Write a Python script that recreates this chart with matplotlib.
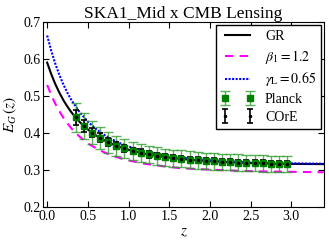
import matplotlib
matplotlib.use("Agg")
import matplotlib.pyplot as plt

plt.rcParams['font.family'] = ['Liberation Serif', 'DejaVu Serif']
plt.rcParams['mathtext.fontset'] = 'stix'

# curve grid
z_curve = [0.0, 0.05, 0.1, 0.15, 0.2, 0.25, 0.3, 0.4, 0.5, 0.6, 0.7, 0.8, 0.9, 1.0,
           1.2, 1.4, 1.6, 1.8, 2.0, 2.4, 2.8, 3.4]
eg_gr = [0.5904, 0.5592, 0.5323, 0.5090, 0.4887, 0.4710, 0.4555, 0.4298, 0.4096, 0.3936,
         0.3807, 0.3703, 0.3618, 0.3548, 0.3441, 0.3365, 0.3310, 0.3269, 0.3238, 0.3195,
         0.3169, 0.3160]
eg_beta = [0.530, 0.503, 0.479, 0.459, 0.441, 0.426, 0.412, 0.390, 0.372, 0.359,
           0.348, 0.339, 0.332, 0.326, 0.317, 0.311, 0.306, 0.303, 0.301, 0.2975,
           0.2957, 0.294]
eg_gamma = [0.6637, 0.6225, 0.5873, 0.5570, 0.5309, 0.5082, 0.4885, 0.4561, 0.4309, 0.4110,
            0.3952, 0.3825, 0.3721, 0.3636, 0.3507, 0.3416, 0.3350, 0.3301, 0.3264, 0.3213,
            0.3185, 0.3170]

# data points
z_data = [0.35, 0.45, 0.55, 0.65, 0.75, 0.85, 0.95, 1.05, 1.15, 1.25, 1.35, 1.45, 1.55, 1.65,
          1.75, 1.85, 1.95, 2.05, 2.15, 2.25, 2.35, 2.45, 2.55, 2.65, 2.75, 2.85, 2.95]
eg_data = [0.4420, 0.4193, 0.4013, 0.3869, 0.3753, 0.3659, 0.3582, 0.3519, 0.3465, 0.3420,
           0.3383, 0.3350, 0.3322, 0.3299, 0.3278, 0.3261, 0.3245, 0.3232, 0.3222, 0.3211,
           0.3200, 0.3192, 0.3185, 0.3179, 0.3172, 0.3166, 0.3162]
err_planck = [0.040, 0.035, 0.032, 0.030, 0.028, 0.027, 0.026, 0.025, 0.025, 0.024, 0.024,
              0.023, 0.023, 0.023, 0.023, 0.022, 0.022, 0.022, 0.022, 0.022, 0.022, 0.022,
              0.022, 0.022, 0.022, 0.022, 0.022]
err_core = [0.020, 0.016, 0.013, 0.012, 0.011, 0.010, 0.010, 0.009, 0.009, 0.009, 0.008,
            0.008, 0.008, 0.008, 0.008, 0.008, 0.008, 0.008, 0.008, 0.008, 0.008, 0.008,
            0.008, 0.008, 0.008, 0.008, 0.008]

fig = plt.figure(figsize=(3.29, 2.45), dpi=100)
ax = fig.add_axes([0.131, 0.155, 0.853, 0.755])

ax.plot(z_curve, eg_gr, color='black', lw=1.5, label='GR')
ax.plot(z_curve, eg_beta, color='magenta', lw=1.5, ls=(0, (4, 3)), label=r'$\beta_1 = 1.2$')
ax.plot(z_curve, eg_gamma, color='blue', lw=1.5, ls=(0, (1, 0.7)), label=r'$\gamma_{\rm L} = 0.65$')
ax.errorbar(z_data, eg_data, yerr=err_planck, fmt='s', color='green', ms=4,
            ecolor=(0.15, 0.6, 0.15, 0.75), elinewidth=1, capsize=3.5, capthick=1, label='Planck')
ax.errorbar(z_data, eg_data, yerr=err_core, fmt='.', color='black', ms=3,
            elinewidth=1.2, capsize=2, capthick=1.2, label='COrE')

ax.set_xlim(-0.05, 3.4)
ax.set_ylim(0.2, 0.7)
ax.set_xticks([0.0, 0.5, 1.0, 1.5, 2.0, 2.5, 3.0])
ax.set_yticks([0.2, 0.3, 0.4, 0.5, 0.6, 0.7])
ax.tick_params(direction='in', top=True, right=True, labelsize=10, length=4, pad=2)
ax.set_xlabel(r'$z$', fontsize=11, labelpad=2)
ax.set_ylabel(r'$E_G\,(z)$', fontsize=11, labelpad=3)
ax.set_title('SKA1_Mid x CMB Lensing', fontsize=12.5, pad=3)

leg = ax.legend(loc='upper right', numpoints=2, fontsize=10, fancybox=False,
                edgecolor='black', framealpha=1, handlelength=2.4, borderaxespad=0.2,
                labelspacing=0.35, handletextpad=0.8, borderpad=0.35)
leg.get_frame().set_linewidth(1.0)

fig.savefig('out.png', dpi=100)
